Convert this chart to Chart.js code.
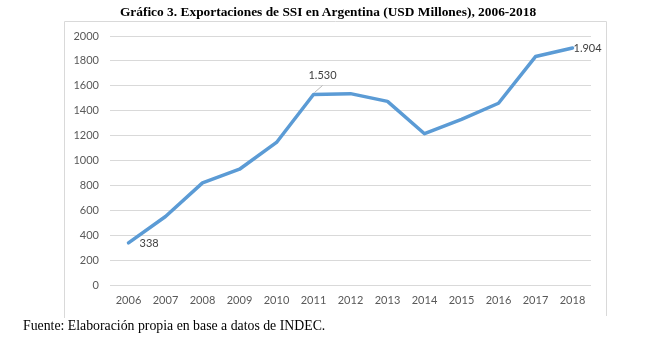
<!DOCTYPE html>
<html><head><meta charset="utf-8">
<script src="https://cdn.jsdelivr.net/npm/chart.js@4/dist/chart.umd.min.js"></script>
<style>
html,body{margin:0;padding:0;background:#fff;width:656px;height:361px;overflow:hidden;position:relative}
#wrap{position:absolute;left:0;top:0;width:656px;height:361px}
#title{position:absolute;left:0;width:656px;top:4px;text-align:center;font:bold 13.4px "Liberation Serif","Times New Roman",serif;color:#000}
#foot{position:absolute;left:23px;top:318px;font:13.8px "Liberation Serif","Times New Roman",serif;color:#000}
</style></head><body>
<div id="wrap"><canvas id="c" width="656" height="361"></canvas></div>
<div id="title">Gráfico 3. Exportaciones de SSI en Argentina (USD Millones), 2006-2018</div>
<div id="foot">Fuente: Elaboración propia en base a datos de INDEC.</div>
<script>
const years = ["2006","2007","2008","2009","2010","2011","2012","2013","2014","2015","2016","2017","2018"];
const exportsUSD = [338,550,820,930,1145,1530,1537,1475,1215,1330,1460,1835,1904];
const labelText = {0:"338",5:"1.530",12:"1.904"};

const frame = {
  id:'frame',
  beforeDraw(chart){
    const ctx=chart.ctx; ctx.save();
    ctx.strokeStyle='#d9d9d9'; ctx.lineWidth=1;
    ctx.beginPath();
    ctx.moveTo(64.5,318); ctx.lineTo(64.5,21.5); ctx.lineTo(606.5,21.5); ctx.lineTo(606.5,316);
    ctx.stroke(); ctx.restore();
  }
};
const dataLabels = {
  id:'dataLabels',
  afterDatasetsDraw(chart){
    const ctx=chart.ctx; const meta=chart.getDatasetMeta(0);
    ctx.save();
    ctx.font='11px Lato, "Liberation Sans", sans-serif';
    ctx.fillStyle='#404040'; ctx.textBaseline='middle';
    Object.keys(labelText).forEach(k=>{
      const i=+k; const p=meta.data[i]; const t=labelText[i];
      if(i===0){ ctx.textAlign='left'; ctx.fillText(t,p.x+11,p.y+1); }
      else if(i===5){
        ctx.strokeStyle='#a6a6a6'; ctx.lineWidth=0.8;
        ctx.beginPath(); ctx.moveTo(p.x+1,p.y-2); ctx.lineTo(p.x+9,p.y-9); ctx.stroke();
        ctx.textAlign='center'; ctx.fillText(t,p.x+9,p.y-19);
      } else { ctx.textAlign='left'; ctx.fillText(t,p.x+1,p.y+1); }
    });
    ctx.restore();
  }
};
new Chart(document.getElementById('c'),{
  type:'line',
  data:{labels:years,datasets:[{data:exportsUSD,borderColor:'#5b9bd5',borderWidth:3.5,pointRadius:0,tension:0,fill:false,borderCapStyle:'round',borderJoinStyle:'round'}]},
  options:{
    responsive:false,animation:false,
    layout:{padding:{left:0,right:65,top:36,bottom:46}},
    plugins:{legend:{display:false},tooltip:{enabled:false},title:{display:false}},
    scales:{
      x:{offset:true,grid:{display:false,drawTicks:false},border:{display:false},
        ticks:{color:'#595959',font:{family:'Lato, "Liberation Sans", sans-serif',size:11},padding:9,maxRotation:0},
        afterFit(s){s.height=30;}},
      y:{min:0,max:2000,grid:{color:'#d9d9d9',lineWidth:1,drawTicks:false},border:{display:false},
        ticks:{stepSize:200,color:'#595959',font:{family:'Lato, "Liberation Sans", sans-serif',size:11},padding:11,
          callback:(v)=>String(v)},
        afterFit(s){s.width=110;}}
    }
  },
  plugins:[frame,dataLabels]
});
</script></body></html>
